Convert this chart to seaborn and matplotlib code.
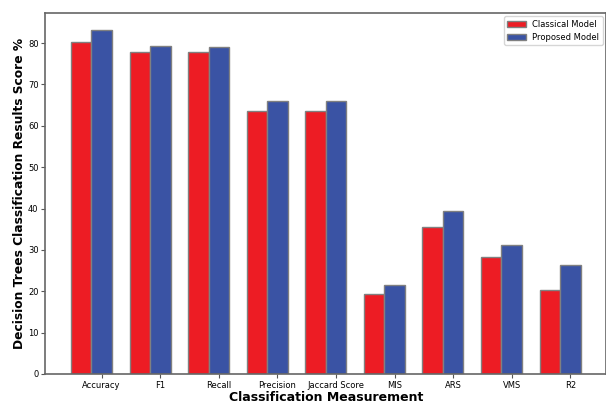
import numpy as np
import pandas as pd
import matplotlib
matplotlib.use("Agg")
import matplotlib.pyplot as plt
import seaborn as sns

categories = ["Accuracy", "F1", "Recall", "Precision", "Jaccard Score", "MIS", "ARS", "VMS", "R2"]
classical = [80.2, 77.8, 77.8, 63.7, 63.7, 19.3, 35.6, 28.2, 20.4]
proposed = [83.1, 79.4, 79.1, 65.9, 65.9, 21.5, 39.5, 31.3, 26.4]
series_names = ["Classical Model", "Proposed Model"]

df = pd.DataFrame({
    "Measurement": categories * 2,
    "Score": classical + proposed,
    "Model": [series_names[0]] * len(categories) + [series_names[1]] * len(categories),
})

sns.set_style("white")
plt.rcParams['font.family'] = ['DejaVu Sans']
plt.rcParams['text.color'] = 'black'
plt.rcParams['axes.labelcolor'] = 'black'
plt.rcParams['xtick.color'] = 'black'
plt.rcParams['ytick.color'] = 'black'

fig = plt.figure(figsize=(6.06, 4.03), dpi=100)
ax = fig.add_axes([0.075, 0.072, 0.925, 0.896])

sns.barplot(data=df, x="Measurement", y="Score", hue="Model",
            palette=["#ed1c24", "#3a53a4"], width=0.7, edgecolor="grey",
            linewidth=1.0, saturation=1, ax=ax, errorbar=None)

ax.set_xlim(-0.785, 8.785)
ax.set_ylim(0, 87.3)
ax.set_xticks(np.arange(len(categories)) + 0.175)
ax.set_xticklabels(categories, fontsize=6)
ax.set_yticks(np.arange(0, 81, 10))
ax.tick_params(axis="y", labelsize=6, length=3, pad=2, left=True, color="#555555", labelcolor="black")
ax.tick_params(axis="x", length=3, pad=2, bottom=True, color="#555555", labelcolor="black")

ax.set_xlabel("Classification Measurement", fontsize=9, fontweight="bold", labelpad=1, color="black")
ax.set_ylabel("Decision Trees Classification Results Score %", fontsize=8.8, fontweight="bold", labelpad=1, color="black")

for s in ax.spines.values():
    s.set_color("#666666")
    s.set_linewidth(1.2)

leg = ax.legend(loc="upper right", fontsize=6, frameon=True, title=None,
                handlelength=2.2, borderaxespad=0.4)
for t in leg.get_texts():
    t.set_color("black")

fig.savefig("out.png", dpi=100)
